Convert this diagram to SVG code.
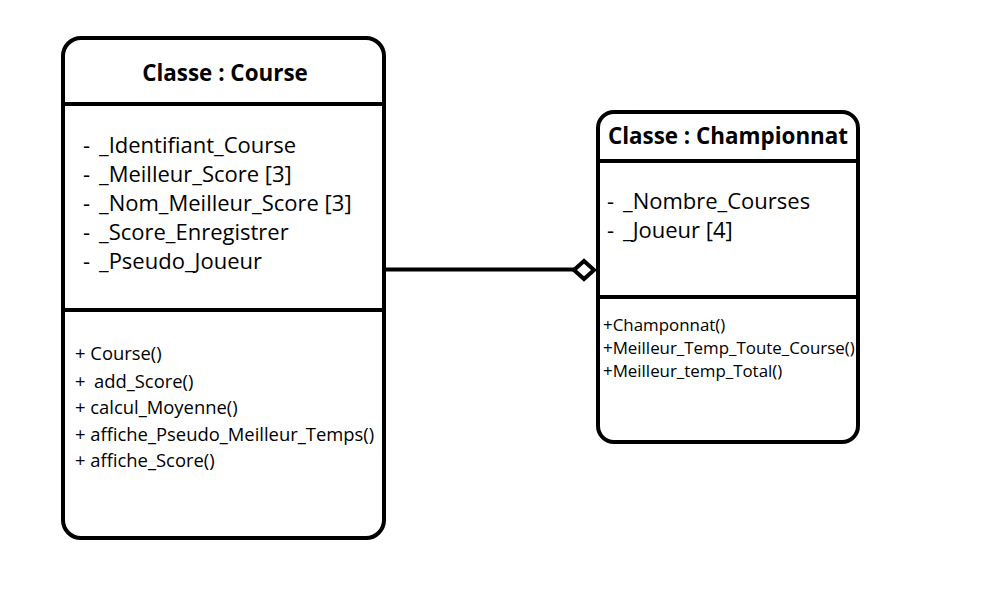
<svg xmlns="http://www.w3.org/2000/svg" width="983" height="598" viewBox="0 0 983 598">
<style>
.box{fill:#fff;stroke:#000;stroke-width:4}
.div{stroke:#000;stroke-width:4}
.t{font-family:"Open Sans","Liberation Sans",sans-serif;fill:#000}
.title{font-weight:bold;font-size:22.4px;text-anchor:middle}
.attr{font-size:22px}
.m1{font-size:18.4px}
.m2{font-size:16.9px}
</style>
<rect width="983" height="598" fill="#fff"/>
<g id="connectors">
<line x1="386" y1="269.5" x2="574" y2="269.5" stroke="#000" stroke-width="4"/>
<polygon points="574,270 584,261 594,270 584,279" fill="#fff" stroke="#000" stroke-width="4"/>
</g>
<g id="course">
<rect class="box" x="63" y="38" width="321" height="500" rx="18"/>
<line class="div" x1="63" y1="104" x2="384" y2="104"/>
<line class="div" x1="63" y1="310" x2="384" y2="310"/>
<text class="t title" x="225" y="81">Classe : Course</text>
<g class="t attr">
<text x="83" y="153">-<tspan x="99">_Identifiant_Course</tspan></text>
<text x="83" y="182">-<tspan x="99">_Meilleur_Score [3]</tspan></text>
<text x="83" y="211">-<tspan x="99">_Nom_Meilleur_Score [3]</tspan></text>
<text x="83" y="240">-<tspan x="99">_Score_Enregistrer</tspan></text>
<text x="83" y="269">-<tspan x="99">_Pseudo_Joueur</tspan></text>
</g>
<g class="t m1">
<text x="75" y="360">+ Course()</text>
<text x="75" y="388">+<tspan x="94">add_Score()</tspan></text>
<text x="75" y="414">+ calcul_Moyenne()</text>
<text x="75" y="441">+ affiche_Pseudo_Meilleur_Temps()</text>
<text x="75" y="467">+ affiche_Score()</text>
</g>
</g>
<g id="championnat">
<rect class="box" x="598" y="112" width="260" height="330" rx="16"/>
<line class="div" x1="598" y1="161" x2="858" y2="161"/>
<line class="div" x1="598" y1="297" x2="858" y2="297"/>
<text class="t title" x="728" y="144">Classe : Championnat</text>
<g class="t attr">
<text x="607" y="209">-<tspan x="623">_Nombre_Courses</tspan></text>
<text x="607" y="238">-<tspan x="623">_Joueur [4]</tspan></text>
</g>
<g class="t m2">
<text x="603" y="331">+Champonnat()</text>
<text x="603" y="354">+Meilleur_Temp_Toute_Course()</text>
<text x="603" y="377">+Meilleur_temp_Total()</text>
</g>
</g>
</svg>
